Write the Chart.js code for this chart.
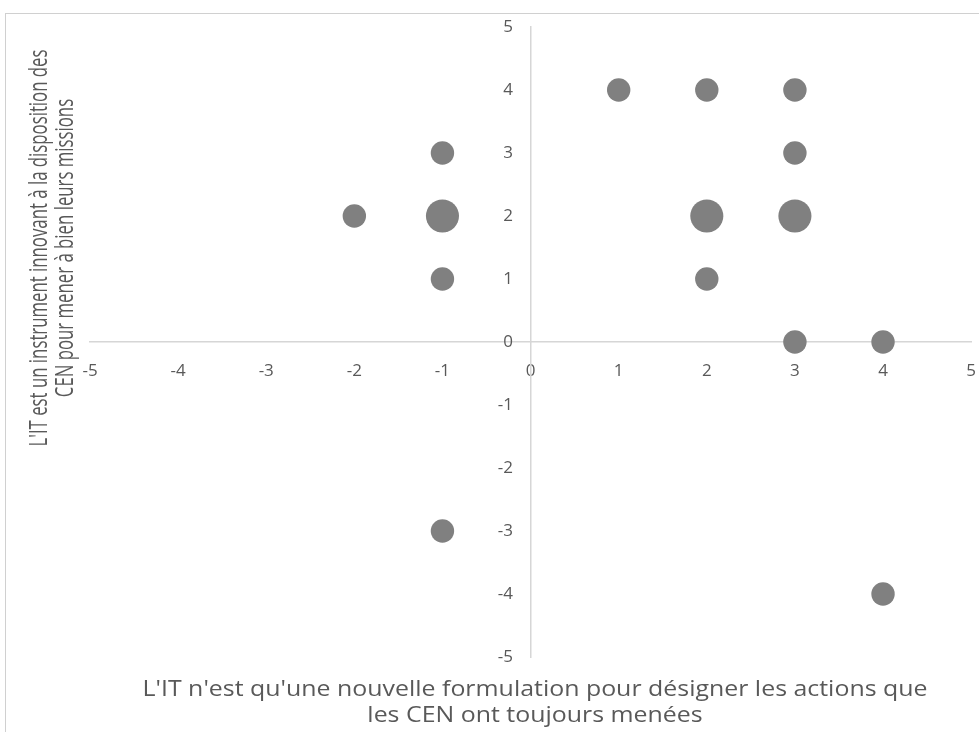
<!DOCTYPE html>
<html>
<head>
<meta charset="utf-8">
<script src="https://cdn.jsdelivr.net/npm/chart.js@4"></script>
<style>
  html, body { margin: 0; padding: 0; background: #fff; overflow: hidden; }
  #wrap { position: relative; width: 979px; height: 732px; overflow: hidden; }
  #frame { position: absolute; left: 5px; top: 13px; width: 1000px; height: 800px; border: 1px solid #d0d0d0; pointer-events: none; }
  canvas { position: absolute; left: 0; top: 0; }
</style>
</head>
<body>
<div id="wrap">
  <canvas id="c" width="995" height="732"></canvas>
  <div id="frame"></div>
</div>
<script>
// ----- data -----
const xValues = [1, 2, 3, -1, 3, -2, -1, 2, 3, -1, 2, 3, 4, -1, 4]
const yValues = [4, 4, 4, 3, 3, 2, 2, 2, 2, 1, 1, 0, 0, -3, -4]
const counts  = [1, 1, 1, 1, 1, 1, 2, 2, 2, 1, 1, 1, 1, 1, 1]

const xTitle = [
  "L'IT n'est qu'une nouvelle formulation pour désigner les actions que",
  'les CEN ont toujours menées',
]
const yTitle = [
  "L'IT est un instrument innovant à la disposition des",
  'CEN pour mener à bien leurs missions',
]

const textColor = '#595959'
const axisColor = '#d6d6d6'
const bubbleColor = '#808080'
const font = '"Open Sans", "Liberation Sans", sans-serif'

// bubble area proportional to count
const points = xValues.map((x, i) => ({ x, y: yValues[i], r: 11.7 * Math.sqrt(counts[i]) }))

// axis titles drawn by hand since the axes cross at zero
const axisTitles = {
  id: 'axisTitles',
  afterDraw(chart) {
    const ctx = chart.ctx
    ctx.save()
    ctx.fillStyle = textColor
    ctx.textAlign = 'center'
    ctx.textBaseline = 'middle'

    // bottom title
    ctx.font = '21px ' + font
    const sx = 785 / ctx.measureText(xTitle[0]).width
    ctx.save()
    ctx.translate(535, 0)
    ctx.scale(sx, 1)
    ctx.fillText(xTitle[0], 0, 690)
    ctx.fillText(xTitle[1], 0, 716)
    ctx.restore()

    // left title, rotated, one line at a time
    ctx.font = '20px ' + font
    const sy = 397 / ctx.measureText(yTitle[0]).width
    ;[40, 66].forEach((cx, i) => {
      ctx.save()
      ctx.translate(cx, 248)
      ctx.rotate(-Math.PI / 2)
      ctx.scale(sy, 1.3)
      ctx.fillText(yTitle[i], 0, 0)
      ctx.restore()
    })

    ctx.restore()
  },
}

new Chart(document.getElementById('c'), {
  type: 'bubble',
  data: {
    datasets: [{
      data: points,
      backgroundColor: bubbleColor,
      borderWidth: 0,
      hoverBorderWidth: 0,
    }],
  },
  options: {
    responsive: false,
    animation: false,
    events: [],
    layout: { padding: { left: 90, right: 8, top: 27, bottom: 75 } },
    plugins: {
      legend: { display: false },
      tooltip: { enabled: false },
    },
    scales: {
      x: {
        type: 'linear',
        min: -5,
        max: 5,
        position: { y: 0 },
        grid: { display: false, drawTicks: false },
        border: { display: true, color: axisColor, width: 1.5 },
        ticks: { stepSize: 1, padding: 19, color: textColor, font: { family: font, size: 17 } },
      },
      y: {
        type: 'linear',
        min: -5,
        max: 5,
        position: { x: 0 },
        grid: { display: false, drawTicks: false },
        border: { display: true, color: axisColor, width: 1.5 },
        ticks: {
          stepSize: 1,
          color: textColor,
          font: { family: font, size: 17 },
          // padding is ignored for a value-positioned axis, so pad the label itself
          callback: (v) => v + '    ',
        },
      },
    },
  },
  plugins: [axisTitles],
})
</script>
</body>
</html>
